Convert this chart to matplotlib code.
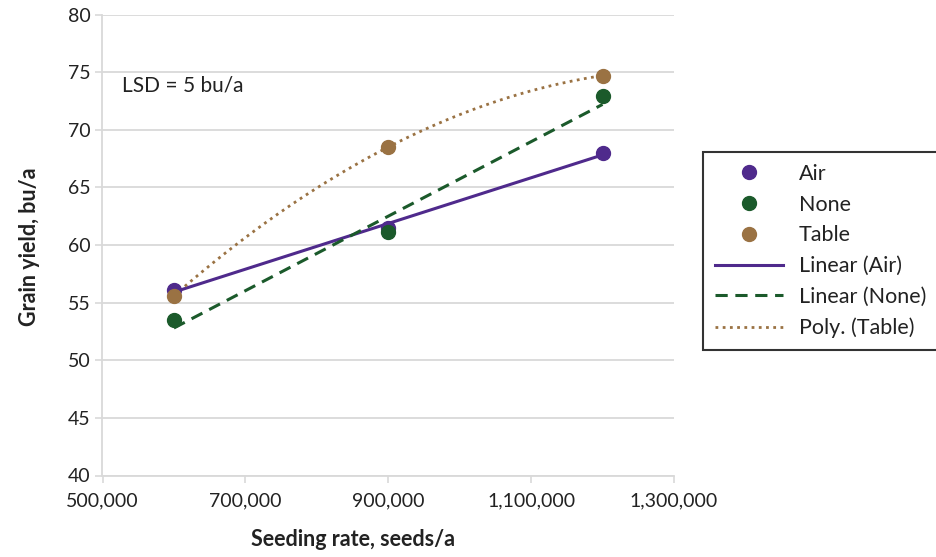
"""Grain yield vs seeding rate with trendlines."""
import numpy as np
import matplotlib
matplotlib.use("Agg")
import matplotlib.pyplot as plt
from matplotlib.ticker import FuncFormatter

plt.rcParams["font.family"] = ["Lato", "DejaVu Sans"]

seeding_rate = [600000, 900000, 1200000]
air = [56.1, 61.5, 68.0]
none = [53.5, 61.1, 72.9]
table = [55.6, 68.5, 74.7]

x_ticks = [500000, 700000, 900000, 1100000, 1300000]
y_ticks = [40, 45, 50, 55, 60, 65, 70, 75, 80]

C_AIR = "#4f2a8c"
C_NONE = "#1b5a2b"
C_TABLE = "#9a7243"
GRID = "#d9d9d9"
TXT = "#222222"


def main():
    fig = plt.figure(figsize=(9.37, 5.57), dpi=100)
    left, right, top, bottom = 102.5, 674, 14.5, 475.5
    ax = fig.add_axes([left / 937, 1 - bottom / 557,
                       (right - left) / 937, (bottom - top) / 557])

    x = np.array(seeding_rate, dtype=float)
    xs = np.linspace(x.min(), x.max(), 200)

    # trendlines
    fit_air = np.polyfit(x, air, 1)
    fit_none = np.polyfit(x, none, 1)
    fit_table = np.polyfit(x, table, 2)

    h_air, = ax.plot(x, air, "o", color=C_AIR, ms=10, zorder=4, label="Air")
    h_none, = ax.plot(x, none, "o", color=C_NONE, ms=10, zorder=4, label="None")
    h_tab, = ax.plot(x, table, "o", color=C_TABLE, ms=10, zorder=4, label="Table")
    l_air, = ax.plot(xs, np.polyval(fit_air, xs), "-", color=C_AIR, lw=2.2,
                     zorder=3, label="Linear (Air)")
    l_none, = ax.plot(xs, np.polyval(fit_none, xs), "--", color=C_NONE, lw=2.2,
                      dashes=(4, 2.5), zorder=3, label="Linear (None)")
    l_tab, = ax.plot(xs, np.polyval(fit_table, xs), ":", color=C_TABLE, lw=2.0,
                     dashes=(1, 1.6), zorder=3, label="Poly. (Table)")

    ax.set_xlim(500000, 1300000)
    ax.set_ylim(40, 80)
    ax.set_xticks(x_ticks)
    ax.set_yticks(y_ticks)
    ax.xaxis.set_major_formatter(FuncFormatter(lambda v, p: f"{int(v):,}"))
    ax.yaxis.grid(True, color=GRID, lw=1.3)
    ax.set_axisbelow(True)
    for s in ["top", "right"]:
        ax.spines[s].set_visible(False)
    for s in ["left", "bottom"]:
        ax.spines[s].set_color(GRID)
        ax.spines[s].set_linewidth(1.3)
    ax.tick_params(axis="both", colors=GRID, labelcolor=TXT,
                   labelsize=14, length=5, width=1.2)
    ax.tick_params(axis="x", pad=7)

    fig.text(353 / 937, 1 - 540 / 557, "Seeding rate, seeds/a", fontsize=15.5,
             fontweight="bold", color=TXT, ha="center", va="center")
    fig.text(30 / 937, 1 - 247 / 557, "Grain yield, bu/a", fontsize=15.5,
             fontweight="bold", color=TXT, ha="center", va="center", rotation=90)

    ax.text(0.034, 0.845, "LSD = 5 bu/a", transform=ax.transAxes,
            fontsize=15, color=TXT, va="center")

    leg = fig.legend(handles=[h_air, h_none, h_tab, l_air, l_none, l_tab],
                     loc="upper left", bbox_to_anchor=(703 / 937, 1 - 152 / 557),
                     fontsize=15.5, frameon=True, fancybox=False, handlelength=3.15,
                     borderpad=0.55, labelspacing=0.5, handletextpad=0.75,
                     borderaxespad=0)
    leg.get_frame().set_edgecolor("black")
    leg.get_frame().set_linewidth(1.5)
    for t in leg.get_texts():
        t.set_color(TXT)

    fig.savefig("out.png", dpi=100)


if __name__ == "__main__":
    main()
